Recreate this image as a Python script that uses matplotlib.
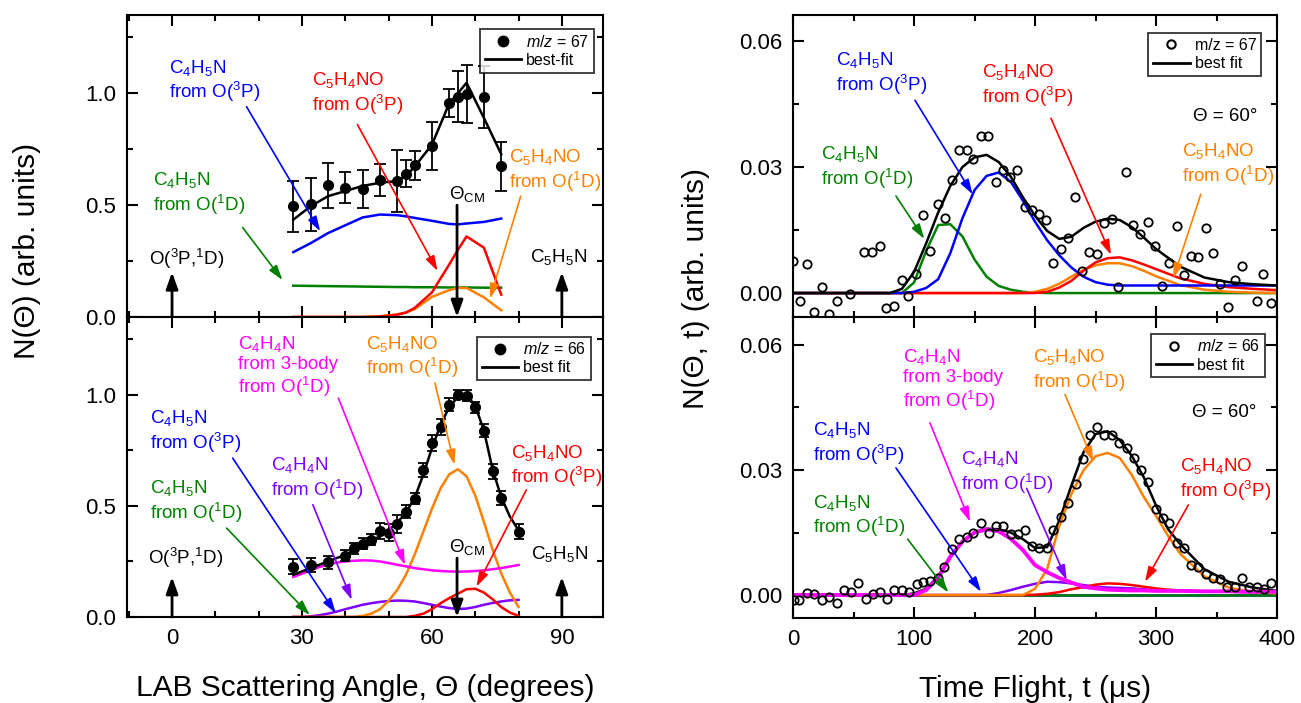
import matplotlib
matplotlib.use('Agg')
import matplotlib.pyplot as plt
from matplotlib.lines import Line2D
from matplotlib.ticker import MultipleLocator, FormatStrFormatter

plt.rcParams['font.family'] = ['Liberation Sans', 'DejaVu Sans']
plt.rcParams['mathtext.fontset'] = 'custom'
plt.rcParams['mathtext.rm'] = 'Liberation Sans'
plt.rcParams['mathtext.it'] = 'Liberation Sans:italic'
plt.rcParams['mathtext.bf'] = 'Liberation Sans:bold'

BLUE, RED, GREEN = '#0000ff', '#ff0000', '#008000'
ORANGE, MAGENTA, PURPLE = '#ff8000', '#ff00ff', '#8000ff'

# ---------------- LAB angular distributions ----------------
# m/z = 67
ang67 = [28, 32, 36, 40, 44, 48, 52, 54, 56, 60, 64, 66, 68, 72, 76]
n67 = [0.495, 0.503, 0.589, 0.578, 0.571, 0.613, 0.608, 0.641, 0.679, 0.763,
       0.958, 0.984, 0.998, 0.984, 0.673]
err67 = [0.115, 0.117, 0.10, 0.07, 0.085, 0.07, 0.14, 0.06, 0.065, 0.107,
         0.062, 0.114, 0.13, 0.137, 0.11]
fit67 = [0.435, 0.495, 0.54, 0.563, 0.586, 0.60, 0.608, 0.63, 0.672, 0.77,
         0.955, 1.0, 1.047, 0.89, 0.728]
blue67 = [0.29, 0.33, 0.375, 0.41, 0.445, 0.458, 0.455, 0.45, 0.443, 0.43,
          0.416, 0.414, 0.418, 0.425, 0.44]
green67 = [0.14, 0.139, 0.138, 0.137, 0.136, 0.135, 0.134, 0.134, 0.133, 0.133,
           0.132, 0.132, 0.132, 0.131, 0.131]
red67 = [0, 0, 0, 0, 0, 0.002, 0.01, 0.02, 0.04, 0.11, 0.235, 0.30, 0.36, 0.31, 0.10]
orange67 = [0, 0, 0, 0, 0, 0.003, 0.012, 0.02, 0.035, 0.09, 0.12, 0.13, 0.13, 0.088, 0.03]

# m/z = 66
ang66 = [28, 32, 36, 40, 42, 44, 46, 48, 50, 52, 54, 56, 58, 60, 62, 64, 66, 68,
         70, 72, 74, 76, 80]
n66 = [0.227, 0.234, 0.246, 0.276, 0.309, 0.329, 0.347, 0.387, 0.38, 0.417,
       0.474, 0.532, 0.662, 0.782, 0.854, 0.955, 1.0, 0.995, 0.943, 0.839,
       0.655, 0.535, 0.384]
err66 = [0.035, 0.03, 0.03, 0.025, 0.025, 0.025, 0.025, 0.035, 0.037, 0.04,
         0.03, 0.025, 0.03, 0.035, 0.035, 0.03, 0.02, 0.025, 0.025, 0.03,
         0.035, 0.03, 0.035]
fitang66 = [28, 30, 32, 34, 36, 38, 40, 42, 44, 46, 48, 50, 52, 54, 56, 58, 60,
            62, 64, 66, 68, 70, 72, 74, 76, 78, 80]
fit66 = [0.19, 0.205, 0.22, 0.235, 0.25, 0.265, 0.28, 0.30, 0.32, 0.34, 0.365,
         0.39, 0.425, 0.47, 0.535, 0.64, 0.76, 0.865, 0.945, 0.99, 1.0, 0.95,
         0.84, 0.665, 0.54, 0.452, 0.39]
magenta66 = [0.18, 0.195, 0.21, 0.225, 0.235, 0.245, 0.25, 0.253, 0.255, 0.254,
             0.25, 0.243, 0.235, 0.228, 0.22, 0.215, 0.21, 0.207, 0.205, 0.204,
             0.205, 0.207, 0.21, 0.215, 0.22, 0.227, 0.234]
purple66 = [0.0, 0.0, 0.003, 0.008, 0.015, 0.024, 0.035, 0.045, 0.055, 0.062,
            0.068, 0.072, 0.074, 0.073, 0.07, 0.063, 0.055, 0.047, 0.04, 0.036,
            0.038, 0.045, 0.055, 0.063, 0.07, 0.075, 0.077]
orange66 = [0, 0, 0, 0, 0, 0, 0, 0, 0.005, 0.015, 0.035, 0.073, 0.122, 0.19,
            0.28, 0.383, 0.487, 0.579, 0.642, 0.665, 0.633, 0.547, 0.428, 0.304,
            0.196, 0.11, 0.045]
red66 = [0, 0, 0, 0, 0, 0, 0, 0, 0, 0, 0, 0, 0, 0, 0.005, 0.015, 0.035, 0.062,
         0.085, 0.105, 0.125, 0.127, 0.11, 0.08, 0.045, 0.02, 0.005]
blue66 = [0] * 27
green66 = [0] * 27

# ---------------- TOF spectra at 60 deg ----------------
t67 = [0.3, 5.5, 11.3, 17.4, 23.7, 29.8, 36.1, 47.1, 58.8, 65.1, 71.5, 77.1,
       83.2, 89.8, 95.3, 101.7, 107.2, 113.2, 119.6, 125.3, 131.4, 137.2, 143.5,
       149.0, 155.4, 161.4, 167.5, 173.3, 179.1, 185.4, 191.5, 197.6, 203.1,
       208.8, 215.1, 221.5, 227.5, 233.0, 238.6, 244.9, 251.0, 257.0, 263.4,
       268.9, 275.2, 281.2, 286.8, 293.1, 299.2, 305.2, 311.0, 317.1, 323.1,
       328.9, 335.0, 341.0, 346.9, 352.9, 359.2, 365.3, 370.8, 383.2, 388.7,
       394.8]
v67 = [0.0076, -0.0018, 0.0068, -0.0046, 0.0014, -0.005, -0.002, -0.0002,
       0.0098, 0.0098, 0.0113, -0.0036, -0.0032, 0.003, -0.0008, 0.0046, 0.0185,
       0.01, 0.0213, 0.0178, 0.0269, 0.034, 0.034, 0.032, 0.0374, 0.0374, 0.0264,
       0.0292, 0.0276, 0.0292, 0.0204, 0.0197, 0.0188, 0.0174, 0.0072, 0.0104,
       0.0132, 0.0228, 0.0053, 0.0097, 0.0092, 0.0166, 0.0176, 0.0014, 0.0288,
       0.0161, 0.014, 0.0169, 0.0113, 0.0016, 0.0072, 0.016, 0.0044, 0.0089,
       0.0086, 0.0154, 0.0096, 0.0022, -0.0034, 0.003, 0.0064, -0.0018, 0.0046,
       -0.0024]
tg67 = [0, 80, 90, 100, 110, 120, 130, 140, 150, 160, 170, 180, 190, 200, 210,
        220, 230, 240, 250, 260, 270, 280, 290, 300, 320, 340, 360, 380, 400]
fitT67 = [0, 0, 0.001, 0.005, 0.0118, 0.0192, 0.0255, 0.030, 0.0323, 0.0329,
          0.0312, 0.0277, 0.0228, 0.0184, 0.0148, 0.0129, 0.0134, 0.0155, 0.017,
          0.0177, 0.0174, 0.0157, 0.0132, 0.0105, 0.0063, 0.0037, 0.0026,
          0.0021, 0.0018]
blueT67 = [0, 0, 0, 0.0003, 0.0012, 0.0033, 0.0095, 0.0178, 0.0245, 0.0279,
           0.0287, 0.0265, 0.022, 0.017, 0.0126, 0.009, 0.0061, 0.0039, 0.0026,
           0.002, 0.0018, 0.0018, 0.0018, 0.0018, 0.0018, 0.0018, 0.0018,
           0.0018, 0.0018]
greenT67 = [0, 0, 0, 0.0025, 0.01, 0.0162, 0.0164, 0.0135, 0.008, 0.0039,
            0.0017, 0.0008, 0.0003, 0.0001, 0, 0, 0, 0, 0, 0, 0, 0, 0, 0, 0, 0,
            0, 0, 0]
redT67 = [0, 0, 0, 0, 0, 0, 0, 0, 0, 0, 0, 0, 0, 0, 0.0003, 0.0013, 0.0029,
          0.0053, 0.0073, 0.0083, 0.0085, 0.0078, 0.0068, 0.0057, 0.0035,
          0.0022, 0.0014, 0.001, 0.0007]
orangeT67 = [0, 0, 0, 0, 0, 0, 0, 0, 0, 0, 0, 0, 0, 0.0003, 0.001, 0.0022,
             0.0039, 0.0055, 0.0066, 0.0071, 0.0071, 0.0064, 0.0053, 0.004,
             0.0019, 0.0008, 0.0003, 0.0001, 0]

t66 = [0.8, 5.2, 11.3, 17.4, 23.7, 30.0, 36.1, 42.4, 47.9, 54.0, 60.3, 65.9,
       71.9, 77.9, 83.7, 89.8, 96.1, 102.2, 107.7, 113.2, 119.6, 125.0, 131.7,
       137.4, 143.5, 149.0, 155.4, 162.0, 167.5, 173.8, 179.9, 185.7, 191.7,
       197.8, 203.6, 209.7, 215.1, 221.5, 227.5, 233.6, 239.4, 245.5, 251.5,
       257.3, 263.4, 269.7, 275.8, 281.8, 287.6, 293.6, 299.7, 305.5, 311.0,
       317.1, 323.1, 328.9, 335.0, 341.1, 347.4, 352.9, 358.9, 365.3, 371.3,
       377.1, 383.2, 389.3, 395.0]
v66 = [-0.0013, -0.0012, 0.0004, 0.0002, -0.0012, -0.0004, -0.002, 0.0012,
       0.0008, 0.003, -0.001, 0.0002, 0.0008, -0.001, 0.0012, 0.0012, 0.0008,
       0.0026, 0.0032, 0.0034, 0.004, 0.0067, 0.011, 0.0134, 0.014, 0.0148,
       0.0172, 0.0148, 0.0166, 0.0166, 0.0147, 0.0147, 0.0156, 0.0118, 0.0112,
       0.0112, 0.0156, 0.0187, 0.022, 0.0267, 0.0326, 0.0385, 0.0403, 0.0385,
       0.0385, 0.0365, 0.0353, 0.0329, 0.03, 0.0272, 0.0206, 0.0186, 0.0174,
       0.0124, 0.0114, 0.0072, 0.0067, 0.005, 0.004, 0.0038, 0.002, 0.002,
       0.004, 0.002, 0.002, 0.0014, 0.0028]
tg66 = [0, 90, 100, 110, 120, 130, 140, 150, 160, 170, 180, 190, 200, 210, 220,
        230, 240, 250, 260, 270, 280, 290, 300, 310, 320, 340, 360, 380, 400]
fitT66 = [0, 0, 0.0004, 0.0015, 0.0045, 0.0093, 0.0128, 0.0151, 0.0159, 0.0158,
          0.015, 0.0134, 0.0113, 0.0115, 0.0178, 0.0262, 0.0342, 0.0386, 0.0393,
          0.0372, 0.0334, 0.0282, 0.0215, 0.0158, 0.0122, 0.0062, 0.0032,
          0.0018, 0.001]
magentaT66 = [0, 0, 0, 0.0012, 0.0042, 0.0092, 0.0128, 0.015, 0.0158, 0.0153,
              0.0135, 0.0108, 0.0072, 0.0055, 0.0041, 0.003, 0.002, 0.0016,
              0.0013, 0.0012, 0.0011, 0.0011, 0.001, 0.001, 0.001, 0.0009,
              0.0009, 0.0008, 0.0008]
purpleT66 = [0, 0, 0, 0, 0, 0, 0, 0, 0, 0.0005, 0.0012, 0.002, 0.0027, 0.0032,
             0.0031, 0.0028, 0.0024, 0.002, 0.0018, 0.0017, 0.0016, 0.0014,
             0.0012, 0.001, 0.001, 0.0009, 0.0008, 0.0007, 0.0007]
orangeT66 = [0, 0, 0, 0, 0, 0, 0, 0, 0, 0, 0, 0, 0.0015, 0.0062, 0.0165, 0.0242,
             0.0299, 0.0333, 0.0341, 0.0329, 0.0288, 0.0235, 0.019, 0.0142,
             0.0099, 0.0045, 0.0018, 0.0007, 0.0004]
redT66 = [0, 0, 0, 0, 0, 0, 0, 0, 0, 0, 0, 0, 0.0001, 0.0003, 0.0007, 0.0014,
          0.0019, 0.0025, 0.0028, 0.0027, 0.0024, 0.002, 0.0016, 0.0013,
          0.0011, 0.0009, 0.0008, 0.0007, 0.0006]
blueT66 = [0] * 29
greenT66 = [0] * 29

# ---------------- figure ----------------
W, H = 1301, 703
fig = plt.figure(figsize=(W / 100, H / 100), dpi=100)


def box(x0, y0, x1, y1):
    return [x0 / W, 1 - y1 / H, (x1 - x0) / W, (y1 - y0) / H]


ax1 = fig.add_axes(box(127, 15, 603, 317))
ax2 = fig.add_axes(box(127, 317, 603, 617))
ax3 = fig.add_axes(box(793, 15, 1277, 317))
ax4 = fig.add_axes(box(793, 317, 1277, 618))

LW = 1.8
TFS = 13.5


def note(ax, xy, txt, color, start, end):
    ax.text(xy[0], xy[1], txt, color=color, fontsize=TFS, ha='left', va='top',
            linespacing=1.15)
    ax.annotate('', xy=end, xytext=start,
                arrowprops=dict(arrowstyle='-|>,head_length=0.45,head_width=0.14',
                                color=color, lw=1.2, mutation_scale=20,
                                shrinkA=0, shrinkB=0))


def vert_arrow(ax, x, y0, y1):
    ax.annotate('', xy=(x, y1), xytext=(x, y0),
                arrowprops=dict(arrowstyle='-|>,head_length=0.5,head_width=0.18',
                                color='k', lw=2, mutation_scale=20,
                                shrinkA=0, shrinkB=0))


def style(ax):
    ax.tick_params(which='both', direction='in', top=True, right=True,
                   width=1.5, labelsize=16, pad=8)
    ax.tick_params(which='major', length=8)
    ax.tick_params(which='minor', length=4.5)
    for s in ax.spines.values():
        s.set_linewidth(1.5)


def legend(ax, lab1, lab2, anchor, filled):
    h1 = Line2D([], [], marker='o', ls='none', color='k', ms=7 if filled else 6,
                mfc='k' if filled else 'none', mew=1.5)
    h2 = Line2D([], [], color='k', lw=2)
    lg = ax.legend([h1, h2], [lab1, lab2], loc='upper right', bbox_to_anchor=anchor,
                   fontsize=11.5, frameon=True, fancybox=False, edgecolor='k',
                   borderaxespad=0, handlelength=2.3, handletextpad=0.3,
                   borderpad=0.3, labelspacing=0.2)
    lg.get_frame().set_linewidth(1.3)


# ---- top left ----
ax = ax1
ax.plot(ang67, green67, color=GREEN, lw=LW)
ax.plot(ang67, orange67, color=ORANGE, lw=LW)
ax.plot(ang67, red67, color=RED, lw=LW)
ax.plot(ang67, blue67, color=BLUE, lw=LW)
ax.plot(ang67, fit67, color='k', lw=LW)
ax.errorbar(ang67, n67, yerr=err67, fmt='o', color='k', ms=7, capsize=4.5,
            elinewidth=1.3, capthick=1.3)
note(ax, (-0.7, 1.16), 'C$_4$H$_5$N\nfrom O($^3$P)', BLUE, (17.2, 0.94), (34.2, 0.383))
note(ax, (-4.4, 0.655), 'C$_4$H$_5$N\nfrom O($^1$D)', GREEN, (16.3, 0.40), (25.5, 0.165))
note(ax, (32.2, 1.105), 'C$_5$H$_4$NO\nfrom O($^3$P)', RED, (42.8, 0.86), (61.3, 0.206))
note(ax, (77.8, 0.76), 'C$_5$H$_4$NO\nfrom O($^1$D)', ORANGE, (80.5, 0.54), (73.4, 0.082))
vert_arrow(ax, 65.8, 0.50, 0.0)
ax.text(68.1, 0.505, 'Θ$_{\\rm CM}$', fontsize=TFS, ha='center', va='bottom')
vert_arrow(ax, 0, 0.0, 0.2)
vert_arrow(ax, 90, 0.0, 0.2)
ax.text(3.3, 0.261, 'O($^3$P,$^1$D)', fontsize=TFS, ha='center', va='center')
ax.text(89.2, 0.27, 'C$_5$H$_5$N', fontsize=TFS, ha='center', va='center')
legend(ax, '$m/z$ = 67', 'best-fit', (0.981, 0.954), True)

# ---- bottom left ----
ax = ax2
ax.plot(fitang66, green66, color=GREEN, lw=LW)
ax.plot(fitang66, blue66, color=BLUE, lw=LW)
ax.plot(fitang66, purple66, color=PURPLE, lw=LW)
ax.plot(fitang66, red66, color=RED, lw=LW)
ax.plot(fitang66, orange66, color=ORANGE, lw=LW)
ax.plot(fitang66, magenta66, color=MAGENTA, lw=LW)
ax.plot(fitang66, fit66, color='k', lw=LW)
ax.errorbar(ang66, n66, yerr=err66, fmt='o', color='k', ms=7, capsize=3.6,
            elinewidth=1.3, capthick=1.3)
note(ax, (15.2, 1.275), 'C$_4$H$_4$N\nfrom 3-body\nfrom O($^1$D)', MAGENTA,
     (38.4, 0.985), (53.8, 0.234))
note(ax, (44.8, 1.275), 'C$_5$H$_4$NO\nfrom O($^1$D)', ORANGE, (60.7, 1.053), (65.2, 0.685))
note(ax, (-5.1, 0.94), 'C$_4$H$_5$N\nfrom O($^3$P)', BLUE, (14.0, 0.715), (37.8, 0.017))
note(ax, (22.8, 0.73), 'C$_4$H$_4$N\nfrom O($^1$D)', PURPLE, (32.5, 0.505), (41.5, 0.077))
note(ax, (-5.1, 0.625), 'C$_4$H$_5$N\nfrom O($^1$D)', GREEN, (12.6, 0.40), (31.8, 0.009))
note(ax, (78.2, 0.785), 'C$_5$H$_4$NO\nfrom O($^3$P)', RED, (81.8, 0.572), (70.3, 0.137))
vert_arrow(ax, 65.8, 0.265, 0.0)
ax.text(68.1, 0.272, 'Θ$_{\\rm CM}$', fontsize=TFS, ha='center', va='bottom')
vert_arrow(ax, 0, 0.0, 0.18)
vert_arrow(ax, 90, 0.0, 0.18)
ax.text(3.1, 0.264, 'O($^3$P,$^1$D)', fontsize=TFS, ha='center', va='center')
ax.text(89.5, 0.282, 'C$_5$H$_5$N', fontsize=TFS, ha='center', va='center')
legend(ax, '$m/z$ = 66', 'best fit', (0.975, 0.935), True)

for ax in (ax1, ax2):
    ax.set_xlim(-10.4, 99.5)
    ax.set_ylim(0, 1.35)
    ax.xaxis.set_major_locator(MultipleLocator(30))
    ax.xaxis.set_minor_locator(MultipleLocator(10))
    ax.yaxis.set_major_locator(MultipleLocator(0.5))
    ax.yaxis.set_minor_locator(MultipleLocator(0.25))
    ax.yaxis.set_major_formatter(FormatStrFormatter('%.1f'))
    style(ax)
ax1.tick_params(labelbottom=False)
ax2.set_xlabel('LAB Scattering Angle, Θ (degrees)', fontsize=21.5, labelpad=18)

# ---- top right ----
ax = ax3
ax.plot(tg67, greenT67, color=GREEN, lw=LW)
ax.plot(tg67, orangeT67, color=ORANGE, lw=LW)
ax.plot(tg67, redT67, color=RED, lw=LW)
ax.plot(tg67, blueT67, color=BLUE, lw=LW)
ax.plot(tg67, fitT67, color='k', lw=LW)
ax.plot(t67, v67, 'o', mfc='none', mec='k', ms=6, mew=1.3)
note(ax, (35.5, 0.0578), 'C$_4$H$_5$N\nfrom O($^3$P)', BLUE, (100.8, 0.0459), (148.5, 0.0235))
note(ax, (22.9, 0.0354), 'C$_4$H$_5$N\nfrom O($^1$D)', GREEN, (85.1, 0.0231), (108.5, 0.0129))
note(ax, (156, 0.0549), 'C$_5$H$_4$NO\nfrom O($^3$P)', RED, (213.2, 0.0416), (262.8, 0.0091))
note(ax, (321.2, 0.0362), 'C$_5$H$_4$NO\nfrom O($^1$D)', ORANGE, (337, 0.0235), (314.3, 0.0035))
ax.text(383.5, 0.042, 'Θ = 60°', fontsize=TFS, ha='right', va='center')
legend(ax, 'm/z = 67', 'best fit', (0.967, 0.94), False)

# ---- bottom right ----
ax = ax4
ax.plot(tg66, fitT66, color='k', lw=LW)
ax.plot(tg66, blueT66, color=BLUE, lw=LW)
ax.plot(tg66, greenT66, color=GREEN, lw=LW)
ax.plot(tg66, purpleT66, color=PURPLE, lw=LW)
ax.plot(tg66, redT66, color=RED, lw=LW)
ax.plot(tg66, orangeT66, color=ORANGE, lw=LW)
ax.plot(tg66, magentaT66, color=MAGENTA, lw=2.8)
ax.plot(t66, v66, 'o', mfc='none', mec='k', ms=6, mew=1.3)
note(ax, (90.6, 0.0595), 'C$_4$H$_4$N\nfrom 3-body\nfrom O($^1$D)', MAGENTA,
     (113.2, 0.0413), (146.3, 0.0176))
note(ax, (198, 0.0595), 'C$_5$H$_4$NO\nfrom O($^1$D)', ORANGE, (224.8, 0.0481), (248.2, 0.032))
note(ax, (16.8, 0.0419), 'C$_4$H$_5$N\nfrom O($^3$P)', BLUE, (85.1, 0.0305), (155.4, 0.0008))
note(ax, (138.8, 0.0351), 'C$_4$H$_4$N\nfrom O($^1$D)', PURPLE, (193.1, 0.0256), (226.2, 0.0036))
note(ax, (16.8, 0.0246), 'C$_4$H$_5$N\nfrom O($^1$D)', GREEN, (94.8, 0.0134), (128.4, 0.0006))
note(ax, (319.8, 0.0334), 'C$_5$H$_4$NO\nfrom O($^3$P)', RED, (326.7, 0.0216), (290.9, 0.0032))
ax.text(383.2, 0.0437, 'Θ = 60°', fontsize=TFS, ha='right', va='center')
legend(ax, '$m/z$ = 66', 'best fit', (0.975, 0.945), False)

for ax in (ax3, ax4):
    ax.set_xlim(0, 400)
    ax.xaxis.set_major_locator(MultipleLocator(100))
    ax.xaxis.set_minor_locator(MultipleLocator(50))
    ax.yaxis.set_major_locator(MultipleLocator(0.03))
    ax.yaxis.set_minor_locator(MultipleLocator(0.015))
    ax.yaxis.set_major_formatter(FormatStrFormatter('%.2f'))
    style(ax)
ax3.set_ylim(-0.0057, 0.0662)
ax4.set_ylim(-0.0055, 0.0667)
ax3.tick_params(labelbottom=False)
ax4.set_xlabel('Time Flight, t (μs)', fontsize=21.5, labelpad=18)

fig.text(0.021, 0.643, 'N(Θ) (arb. units)', fontsize=21.5, rotation=90,
         ha='center', va='center')
fig.text(0.535, 0.59, 'N(Θ, t) (arb. units)', fontsize=21.5, rotation=90,
         ha='center', va='center')

fig.savefig('out.png', dpi=100)
